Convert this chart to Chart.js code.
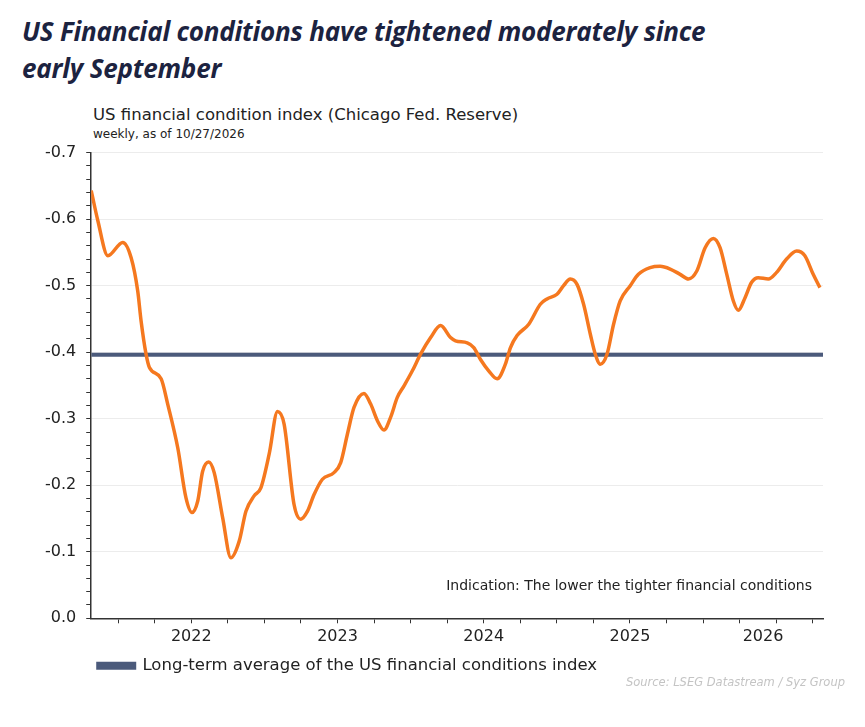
<!DOCTYPE html>
<html lang="en">
<head>
  <meta charset="UTF-8">
  <title>US financial conditions</title>
  <script src="https://cdn.jsdelivr.net/npm/chart.js"></script>
  <style type="text/css">
    body { margin: 0; background: #fff; width: 865px; height: 727px; position: relative; overflow: hidden; }
    #title { position: absolute; left: 22px; top: 13px; margin: 0; font-family: "Open Sans", sans-serif; font-weight: 700; font-style: italic; font-size: 26px; line-height: 37px; color: #1c2340; letter-spacing: -0.2px; }
    #sub1 { position: absolute; left: 93px; top: 105px; font-family: "DejaVu Sans", sans-serif; font-size: 16.5px; color: #222; }
    #sub2 { position: absolute; left: 93px; top: 127px; font-family: "DejaVu Sans", sans-serif; font-size: 12px; color: #222; }
    #source { position: absolute; right: 20px; top: 675px; font-family: "DejaVu Sans", sans-serif; font-style: italic; font-size: 11.5px; color: #c4c4c4; }
    .chartBox { position: absolute; left: 0; top: 133px; width: 865px; height: 551px; }
  </style>
</head>
<body>
  <h1 id="title">US Financial conditions have tightened moderately since<br>early September</h1>
  <div id="sub1">US financial condition index (Chicago Fed. Reserve)</div>
  <div id="sub2">weekly, as of 10/27/2026</div>
  <div class="chartBox"><canvas id="myChart"></canvas></div>
  <div id="source">Source: LSEG Datastream / Syz Group</div>

  <script>
    // time as decimal year, value of the index
    const years = [2021.816, 2021.861, 2021.930, 2022.032, 2022.089, 2022.134, 2022.157, 2022.191, 2022.214, 2022.294,
      2022.339, 2022.408, 2022.464, 2022.505, 2022.544, 2022.578, 2022.619, 2022.657, 2022.715, 2022.771,
      2022.828, 2022.874, 2022.930, 2022.976, 2023.033, 2023.090, 2023.135, 2023.203, 2023.249, 2023.295,
      2023.340, 2023.397, 2023.476, 2023.522, 2023.568, 2023.613, 2023.681, 2023.727, 2023.773, 2023.818,
      2023.863, 2023.909, 2023.954, 2024.012, 2024.068, 2024.137, 2024.205, 2024.273, 2024.307, 2024.387,
      2024.432, 2024.478, 2024.534, 2024.592, 2024.648, 2024.683, 2024.728, 2024.808, 2024.887, 2024.933,
      2025.001, 2025.046, 2025.092, 2025.138, 2025.183, 2025.229, 2025.263, 2025.297, 2025.343, 2025.388,
      2025.433, 2025.502, 2025.558, 2025.638, 2025.706, 2025.775, 2025.843, 2025.900, 2025.957, 2026.014,
      2026.070, 2026.116, 2026.162, 2026.207, 2026.241, 2026.287, 2026.332, 2026.377, 2026.446, 2026.503,
      2026.571, 2026.640, 2026.696, 2026.753, 2026.799];
    const nfci = [-0.643, -0.598, -0.545, -0.565, -0.542, -0.492, -0.447, -0.397, -0.377, -0.360,
      -0.322, -0.256, -0.181, -0.159, -0.176, -0.221, -0.235, -0.219, -0.151, -0.091,
      -0.116, -0.161, -0.184, -0.196, -0.247, -0.311, -0.292, -0.171, -0.149, -0.161,
      -0.186, -0.209, -0.219, -0.234, -0.277, -0.317, -0.338, -0.322, -0.297, -0.283,
      -0.302, -0.332, -0.349, -0.372, -0.397, -0.422, -0.440, -0.422, -0.417, -0.414,
      -0.407, -0.389, -0.372, -0.360, -0.382, -0.407, -0.425, -0.442, -0.472, -0.480,
      -0.487, -0.500, -0.510, -0.502, -0.472, -0.427, -0.397, -0.382, -0.397, -0.442,
      -0.477, -0.500, -0.517, -0.527, -0.529, -0.525, -0.517, -0.510, -0.522, -0.557,
      -0.571, -0.557, -0.517, -0.477, -0.463, -0.482, -0.505, -0.512, -0.510, -0.520,
      -0.540, -0.552, -0.545, -0.517, -0.497];
    const longTermAvg = -0.396;
    const xStart = 2021.816;
    const xEnd = 2026.82;
    const yearLabels = ['2022', '2023', '2024', '2025', '2026'];

    const axisFont = { family: 'DejaVu Sans', size: 16 };
    const isTenth = v => Math.round(Math.abs(v) * 100) % 10 === 0;

    // year label sits in the middle of the part of the year that is shown
    const labelPos = yearLabels.map(y => (Math.max(+y, xStart) + Math.min(+y + 1, xEnd)) / 2);

    const indicationText = {
      id: 'indicationText',
      afterDraw(chart) {
        const ctx = chart.ctx, a = chart.chartArea;
        ctx.save();
        ctx.font = '14px "DejaVu Sans"';
        ctx.fillStyle = '#222';
        ctx.textAlign = 'right';
        ctx.textBaseline = 'middle';
        ctx.fillText('Indication: The lower the tighter financial conditions', a.right - 11, a.bottom - 32);
        ctx.restore();
      }
    };

    const data = {
      datasets: [{
        label: 'US financial conditions index',
        data: years.map((x, i) => ({ x: x, y: nfci[i] })),
        borderColor: '#f5781f',
        borderWidth: 3.5,
        pointRadius: 0,
        cubicInterpolationMode: 'monotone',
        order: 1
      }, {
        label: 'Long-term average of the US financial conditions index',
        data: [{ x: xStart, y: longTermAvg }, { x: xEnd, y: longTermAvg }],
        borderColor: '#4b5a7b',
        backgroundColor: '#4b5a7b',
        borderWidth: 4,
        pointRadius: 0,
        order: 2
      }]
    };

    const config = {
      type: 'line',
      data,
      options: {
        responsive: true,
        maintainAspectRatio: false,
        animation: false,
        layout: { padding: { left: 35, right: 42, top: 11, bottom: 0 } },
        plugins: {
          tooltip: { enabled: false },
          legend: {
            position: 'bottom',
            align: 'start',
            fullSize: false,
            labels: {
              filter: item => item.datasetIndex === 1,
              boxWidth: 36,
              boxHeight: 4,
              padding: 7,
              color: '#222',
              font: { family: 'DejaVu Sans', size: 16.5 }
            }
          }
        },
        scales: {
          x: {
            type: 'linear',
            min: xStart,
            max: xEnd,
            afterBuildTicks: axis => {
              const t = [];
              for (let q = 2022; q <= 2026.75; q += 0.25) t.push({ value: q, mark: true });
              labelPos.forEach((p, i) => {
                const hit = t.find(k => Math.abs(k.value - p) < 0.01);
                if (hit) hit.label = yearLabels[i];
                else t.push({ value: p, mark: false, label: yearLabels[i] });
              });
              t.sort((a, b) => a.value - b.value);
              axis.ticks = t;
            },
            ticks: {
              autoSkip: false,
              maxRotation: 0,
              padding: 4,
              color: '#222',
              font: axisFont,
              callback: function (v, i, ticks) { return ticks[i].label || ''; }
            },
            grid: {
              drawOnChartArea: false,
              tickLength: 5,
              tickColor: c => (c.tick && c.tick.mark) ? '#333' : 'rgba(0,0,0,0)'
            },
            border: { color: '#333', width: 1.5 }
          },
          y: {
            type: 'linear',
            reverse: true,
            min: -0.7,
            max: 0,
            ticks: {
              stepSize: 0.02,
              autoSkip: false,
              padding: 10,
              color: '#222',
              font: axisFont,
              callback: v => isTenth(v) ? (v === 0 ? '0.0' : v.toFixed(1)) : ''
            },
            grid: {
              tickLength: 5,
              color: c => isTenth(c.tick.value) ? '#ececec' : 'rgba(0,0,0,0)',
              tickColor: '#333'
            },
            border: { color: '#333', width: 1.5 }
          }
        }
      },
      plugins: [indicationText]
    };

    const myChart = new Chart(document.getElementById('myChart'), config);
  </script>
</body>
</html>
